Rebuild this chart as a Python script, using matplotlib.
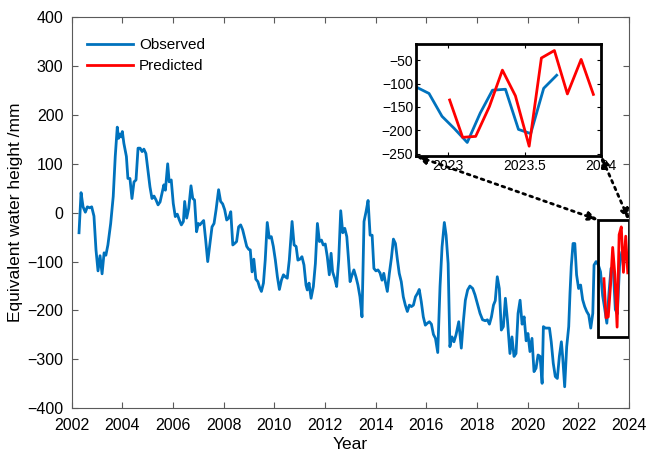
"""Observed vs predicted equivalent water height, with a zoomed inset for 2023."""

import matplotlib
matplotlib.use("Agg")
import matplotlib.pyplot as plt
from matplotlib.patches import Rectangle

plt.rcParams["font.family"] = ["Liberation Sans", "DejaVu Sans"]

# observed series (decimal year, mm)
obs_year = [
    2002.29, 2002.37, 2002.45, 2002.54, 2002.62, 2002.71, 2002.79, 2002.88, 2002.96,
    2003.04, 2003.12, 2003.20, 2003.28, 2003.35, 2003.43, 2003.54, 2003.64, 2003.72,
    2003.80, 2003.85, 2003.91, 2003.96, 2004.00, 2004.06, 2004.16, 2004.22, 2004.30,
    2004.38, 2004.46, 2004.54, 2004.62, 2004.70, 2004.78, 2004.85, 2004.93, 2005.01,
    2005.09, 2005.17, 2005.25, 2005.33, 2005.41, 2005.49, 2005.59, 2005.64, 2005.70,
    2005.79, 2005.85, 2005.93, 2006.01, 2006.09, 2006.17, 2006.25, 2006.33, 2006.41,
    2006.46, 2006.54, 2006.62, 2006.71, 2006.78, 2006.85, 2006.93, 2007.00, 2007.06,
    2007.14, 2007.21, 2007.29, 2007.37, 2007.46, 2007.54, 2007.62, 2007.70, 2007.80,
    2007.88, 2007.96, 2008.04, 2008.12, 2008.20, 2008.28, 2008.36, 2008.43, 2008.51,
    2008.59, 2008.67, 2008.75, 2008.83, 2008.91, 2008.99, 2009.05, 2009.12, 2009.19,
    2009.27, 2009.35, 2009.42, 2009.49, 2009.57, 2009.64, 2009.72, 2009.80, 2009.88,
    2009.96, 2010.04, 2010.12, 2010.20, 2010.28, 2010.36, 2010.43, 2010.51, 2010.59,
    2010.70, 2010.78, 2010.86, 2010.93, 2011.01, 2011.09, 2011.17, 2011.25, 2011.30,
    2011.37, 2011.45, 2011.54, 2011.62, 2011.70, 2011.78, 2011.86, 2011.93, 2012.01,
    2012.09, 2012.17, 2012.24, 2012.30, 2012.38, 2012.46, 2012.54, 2012.62, 2012.70,
    2012.78, 2012.86, 2012.92, 2012.99, 2013.07, 2013.14, 2013.22, 2013.30, 2013.38,
    2013.46, 2013.54, 2013.62, 2013.70, 2013.78, 2013.86, 2013.93, 2014.01, 2014.09,
    2014.17, 2014.25, 2014.32, 2014.38, 2014.46, 2014.54, 2014.62, 2014.70, 2014.78,
    2014.86, 2014.93, 2015.01, 2015.09, 2015.17, 2015.25, 2015.33, 2015.41, 2015.49,
    2015.57, 2015.65, 2015.72, 2015.80, 2015.88, 2015.96, 2016.04, 2016.12, 2016.20,
    2016.28, 2016.36, 2016.45, 2016.54, 2016.62, 2016.71, 2016.78, 2016.86, 2016.93,
    2017.01, 2017.09, 2017.17, 2017.28, 2017.38, 2017.46, 2017.54, 2017.63, 2017.72,
    2017.83, 2017.92, 2018.01, 2018.12, 2018.22, 2018.33, 2018.41, 2018.49, 2018.57,
    2018.65, 2018.72, 2018.80, 2018.88, 2018.96, 2019.04, 2019.12, 2019.20, 2019.30,
    2019.38, 2019.46, 2019.54, 2019.62, 2019.70, 2019.78, 2019.86, 2019.94, 2020.01,
    2020.09, 2020.17, 2020.25, 2020.33, 2020.41, 2020.49, 2020.57, 2020.62, 2020.70,
    2020.78, 2020.86, 2020.93, 2021.01, 2021.09, 2021.17, 2021.25, 2021.33, 2021.38,
    2021.46, 2021.54, 2021.62, 2021.67, 2021.72, 2021.79, 2021.86, 2021.93, 2022.01,
    2022.09, 2022.17, 2022.25, 2022.33, 2022.41, 2022.49, 2022.57, 2022.62, 2022.70,
    2022.79, 2022.875, 2022.96, 2023.04, 2023.125, 2023.21, 2023.29, 2023.375, 2023.46,
    2023.54, 2023.625, 2023.71,
]
obs_val = [
    -41, 41, 12, 1, 12, 10, 12, -7, -76,
    -119, -88, -125, -82, -87, -66, -22, 33, 115,
    175, 152, 161, 155, 166, 142, 115, 70, 70,
    29, 63, 67, 132, 132, 125, 130, 121, 87,
    53, 29, 34, 26, 16, 22, 46, 57, 46,
    100, 63, 67, 19, -8, -3, -15, -25, -18,
    23, -11, 9, 55, 29, 26, -39, -22, -25,
    -20, -16, -56, -100, -63, -29, -22, 6, 47,
    23, 18, 6, -15, -11, 2, -66, -63, -59,
    -29, -25, -35, -52, -69, -75, -76, -121, -95,
    -136, -141, -153, -161, -144, -97, -20, -52, -49,
    -69, -97, -131, -157, -138, -127, -131, -134, -97,
    -18, -66, -69, -97, -95, -90, -107, -148, -158,
    -144, -175, -151, -104, -22, -59, -56, -66, -64,
    -90, -127, -83, -121, -134, -151, -97, 4, -41,
    -32, -49, -90, -141, -127, -117, -131, -148, -172,
    -213, -18, 2, 25, -46, -46, -114, -119, -117,
    -123, -138, -124, -141, -161, -124, -93, -54, -63,
    -97, -124, -141, -172, -189, -202, -189, -192, -189,
    -172, -165, -157, -182, -213, -230, -226, -223, -228,
    -249, -257, -286, -151, -70, -20, -46, -104, -274,
    -254, -264, -250, -223, -277, -223, -179, -158, -150,
    -155, -168, -185, -206, -219, -221, -219, -228, -213,
    -189, -180, -131, -155, -240, -233, -175, -219, -288,
    -254, -294, -288, -206, -179, -228, -213, -262, -247,
    -284, -257, -325, -318, -291, -294, -349, -233, -236,
    -236, -236, -264, -308, -335, -339, -294, -264, -294,
    -356, -274, -233, -165, -110, -63, -63, -127, -155,
    -148, -178, -192, -202, -209, -236, -206, -107, -100,
    -107, -121, -170, -196, -226, -163, -114, -112, -198,
    -207, -110, -82,
]

# predicted series
pred_year = [2023.01, 2023.095, 2023.18, 2023.27, 2023.355, 2023.44,
             2023.53, 2023.61, 2023.695, 2023.78, 2023.87, 2023.95]
pred_val = [-135, -215, -213, -149, -71, -126, -234, -45, -29, -122, -48, -123]

# zoom window
zoom_x = [2022.79, 2024.0]
zoom_y = [-255, -15]

BLUE = "#0072BD"
RED = "#FF0000"
FRAME = "#5a5a5a"

fig = plt.figure(figsize=(6.48, 4.54), dpi=100)
ax = fig.add_axes([0.1106, 0.1007, 0.8601, 0.8616])

ax.plot(obs_year, obs_val, color=BLUE, lw=2, label="Observed")
ax.plot(pred_year, pred_val, color=RED, lw=2, label="Predicted")
ax.add_patch(Rectangle((zoom_x[0], zoom_y[0]), zoom_x[1] - zoom_x[0],
                       zoom_y[1] - zoom_y[0], fill=False, ec="black", lw=2, zorder=5))

ax.set_xlim(2002, 2024)
ax.set_ylim(-400, 400)
ax.set_xticks(range(2002, 2025, 2))
ax.set_yticks(range(-400, 401, 100))
ax.tick_params(direction="in", top=True, right=True, labelsize=11.5,
               color=FRAME, length=4)
ax.tick_params(axis="x", pad=7)
ax.tick_params(axis="y", pad=6)
for s in ax.spines.values():
    s.set_color(FRAME)
    s.set_linewidth(0.8)
ax.set_xlabel("Year", fontsize=12.5, labelpad=3)
ax.set_ylabel("Equivalent water height /mm", fontsize=12.5, labelpad=3)
ax.legend(loc="upper left", bbox_to_anchor=(0.0, 0.985), frameon=False,
          fontsize=11, handlelength=3.0, borderaxespad=0.6,
          labelspacing=0.45, handletextpad=0.4)

# inset
ins = fig.add_axes([0.642, 0.6564, 0.2855, 0.2467])
ins.plot(obs_year, obs_val, color=BLUE, lw=2)
ins.plot(pred_year, pred_val, color=RED, lw=2)
ins.set_xlim(zoom_x)
ins.set_ylim(zoom_y)
ins.set_xticks([2023, 2023.5, 2024])
ins.set_xticklabels(["2023", "2023.5", "2024"])
ins.set_yticks([-250, -200, -150, -100, -50])
ins.tick_params(direction="in", top=True, right=True, labelsize=10,
                length=3, pad=2)
for s in ins.spines.values():
    s.set_linewidth(2)
    s.set_color("black")

# dotted connectors between the zoom box and the inset
corners = [((zoom_x[0], zoom_y[1]), (0.0, 0.0)), ((zoom_x[1], zoom_y[1]), (1.0, 0.0))]
for (p_main, p_ins) in corners:
    ax.annotate("", xy=p_ins, xycoords=ins.transAxes, xytext=p_main,
                textcoords="data",
                arrowprops=dict(arrowstyle="<|-|>,head_length=0.6,head_width=0.25",
                                color="black", lw=2, ls=":",
                                shrinkA=0, shrinkB=0),
                zorder=6, annotation_clip=False)

fig.savefig("out.png", dpi=100)
